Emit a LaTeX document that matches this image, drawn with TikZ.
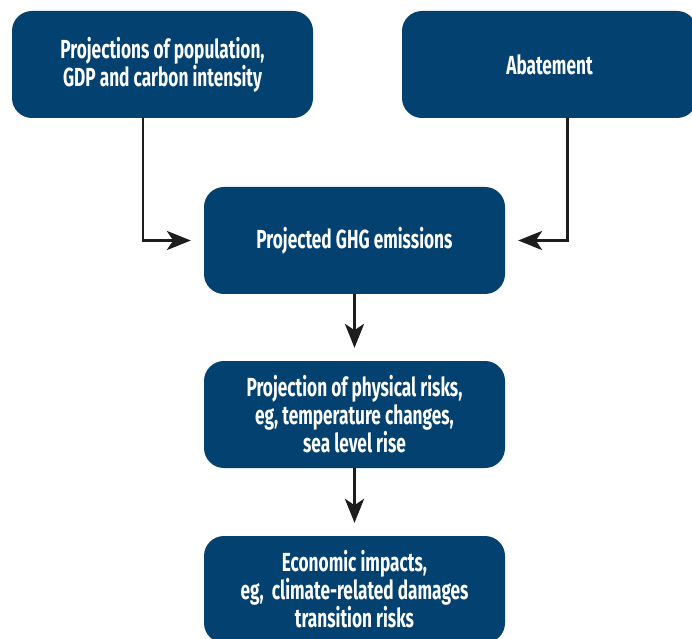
\documentclass[tikz,border=0pt]{standalone}
\usepackage{fontspec}
\setmainfont{Fira Sans}[FakeStretch=0.66]
\usetikzlibrary{arrows.meta}
\definecolor{boxblue}{HTML}{024170}
\definecolor{arrowgray}{HTML}{1D1D1B}
\begin{document}
\begin{tikzpicture}[inner sep=0pt,outer sep=0pt,
flowbox/.style={fill=boxblue,rectangle,rounded corners=0.5cm,minimum width=7.525cm,minimum height=2.675cm,
  text=white,align=center,font=\fontsize{18.6}{19.9}\selectfont\bfseries},
flowarrow/.style={draw=arrowgray,line width=1.7pt,-{Stealth[length=0.6cm,width=0.48cm,inset=0.16cm]},shorten >=0.33cm}]
\useasboundingbox (0,0) rectangle (17.3,-15.975);
\clip (0,0) rectangle (17.3,-15.975);
\draw (4.0625,-1.6125) node[flowbox] (proj) {Projections of population,\\GDP and carbon intensity};
\draw (13.7375,-1.6125) node[flowbox,minimum width=7.375cm] (abate) {Abatement};
\draw (8.8625,-6.0125) node[flowbox] (ghg) {Projected GHG emissions};
\draw (8.8625,-10.3625) node[flowbox] (phys) {Projection of physical risks,\\eg, temperature changes,\\sea level rise};
\draw (8.8625,-14.7375) node[flowbox] (econ) {Economic impacts,\\eg,\ \ climate-related damages\\transition risks};
\draw[flowarrow] (proj.south) ++(-0.49,0) |- (ghg.west);
\draw[flowarrow] (abate.south) ++(0.45,0) |- (ghg.east);
\draw[flowarrow] (ghg) -- (phys);
\draw[flowarrow] (phys) -- (econ);
\end{tikzpicture}
\end{document}
